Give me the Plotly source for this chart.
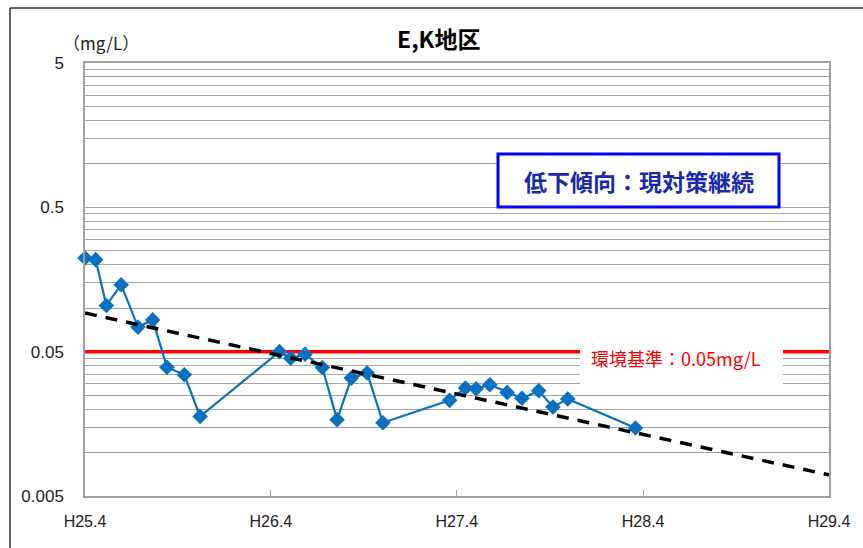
import plotly.graph_objects as go

# ---- data ----
dates = ["2013-04-01", "2013-04-22", "2013-05-13", "2013-06-11", "2013-07-14",
         "2013-08-12", "2013-09-09", "2013-10-13", "2013-11-13",
         "2014-04-18", "2014-05-10", "2014-06-07", "2014-07-11", "2014-08-09",
         "2014-09-06", "2014-10-07", "2014-11-07",
         "2015-03-18", "2015-04-18", "2015-05-09", "2015-06-05", "2015-07-09",
         "2015-08-07", "2015-09-09", "2015-10-07", "2015-11-05",
         "2016-03-17"]
conc = [0.223, 0.217, 0.1045, 0.1455, 0.074,
        0.083, 0.039, 0.0346, 0.0178,
        0.050, 0.045, 0.048, 0.0388, 0.0169,
        0.0328, 0.0356, 0.0161,
        0.023, 0.028, 0.0277, 0.0295, 0.0261,
        0.0238, 0.0268, 0.0207, 0.0235,
        0.0148]
trend_dates = ["2013-04-01", "2017-04-01"]
trend_vals = [0.0926, 0.0070]
std_dates = ["2013-04-01", "2017-04-01"]
std_vals = [0.05, 0.05]

x_tickvals = ["2013-04-01", "2014-04-01", "2015-04-01", "2016-04-01", "2017-04-01"]
x_ticktext = ["H25.4", "H26.4", "H27.4", "H28.4", "H29.4"]
y_major = [0.005, 0.05, 0.5, 5]
y_major_text = ["0.005", "0.05", "0.5", "5"]

title_text = "E,K地区"
unit_text = "（mg/L）"
std_label = "環境基準：0.05mg/L"
box_label = "低下傾向：現対策継続"

# ---- geometry helpers (pixel -> paper) ----
W, H = 863, 548
L, R, T, B = 85, 829, 63, 496


def px(x):
    return (x - L) / (R - L)


def py(y):
    return (B - y) / (B - T)


# gridline values
y_tickvals = []
y_ticktext = []
for base in [0.005, 0.05, 0.5]:
    for k in range(1, 10):
        v = round(base * k, 6)
        y_tickvals.append(v)
        y_ticktext.append(y_major_text[y_major.index(base)] if k == 1 else "")
y_tickvals.append(5)
y_ticktext.append("5")

fig = go.Figure()

fig.add_trace(go.Scatter(
    x=std_dates, y=std_vals, mode="lines",
    line=dict(color="#ff0000", width=3.5), hoverinfo="skip"))

fig.add_trace(go.Scatter(
    x=dates, y=conc, mode="lines+markers", cliponaxis=False,
    line=dict(color="#0a70c0", width=2.2),
    marker=dict(symbol="diamond", size=12, color="#0a70c0")))

fig.add_trace(go.Scatter(
    x=trend_dates, y=trend_vals, mode="lines",
    line=dict(color="black", width=3.5, dash="12px,9px"), hoverinfo="skip"))

shapes = [
    # white box behind the standard label (covers grid + red line)
    dict(type="rect", xref="paper", yref="paper", layer="above",
         x0=px(580), x1=px(783), y0=py(388), y1=py(344),
         fillcolor="white", line=dict(width=0)),
    # blue box
    dict(type="rect", xref="paper", yref="paper", layer="above",
         x0=px(498), x1=px(779), y0=py(207), y1=py(154),
         fillcolor="white", line=dict(color="#0000ff", width=3)),
    # outer frame lines
    dict(type="line", xref="paper", yref="paper", layer="above",
         x0=px(10), x1=px(863), y0=py(8), y1=py(8),
         line=dict(color="#333333", width=1.5)),
    dict(type="line", xref="paper", yref="paper", layer="above",
         x0=px(10), x1=px(10), y0=py(8), y1=py(548),
         line=dict(color="#333333", width=1.5)),
]

annotations = [
    dict(text="<b>" + title_text + "</b>", xref="paper", yref="paper",
         x=px(438), y=py(38),
         showarrow=False, font=dict(size=23, color="black",
                                    family="Noto Sans CJK JP"),
         xanchor="center", yanchor="middle"),
    dict(text=unit_text, xref="paper", yref="paper", x=px(101), y=py(43),
         showarrow=False, font=dict(size=17, color="#222222",
                                    family="Noto Sans CJK JP"),
         xanchor="center", yanchor="middle"),
    dict(text=std_label, xref="paper", yref="paper", x=px(676), y=py(358),
         showarrow=False, font=dict(size=18, color="#ff0000",
                                    family="Noto Sans CJK JP"),
         xanchor="center", yanchor="middle"),
    dict(text="<b>" + box_label + "</b>", xref="paper", yref="paper",
         x=px(639), y=py(181), showarrow=False,
         font=dict(size=23, color="#1a2ab0", family="Noto Sans CJK JP"),
         xanchor="center", yanchor="middle"),
]

fig.update_layout(
    width=W, height=H,
    margin=dict(l=L, r=W - R, t=T, b=H - B),
    paper_bgcolor="white", plot_bgcolor="white",
    showlegend=False,
    shapes=shapes, annotations=annotations,
    xaxis=dict(type="date", range=["2013-04-01", "2017-04-01"],
               tickvals=x_tickvals, ticktext=x_ticktext,
               showgrid=False, zeroline=False,
               showline=True, linecolor="#a0a0a0", linewidth=1.5, mirror=True,
               ticks="inside", ticklen=6, tickcolor="#a0a0a0",
               ticklabelstandoff=10,
               tickfont=dict(size=16, color="#222222",
                             family="Liberation Sans")),
    yaxis=dict(type="log", range=[-2.30103, 0.69897],
               tickvals=y_tickvals, ticktext=y_ticktext,
               showgrid=True, gridcolor="#a6a6a6", gridwidth=1,
               zeroline=False,
               showline=True, linecolor="#a0a0a0", linewidth=1.5, mirror=True,
               ticks="", ticklabelstandoff=16,
               tickfont=dict(size=17, color="#222222",
                             family="Liberation Sans")),
)

fig.write_html("out.html")
